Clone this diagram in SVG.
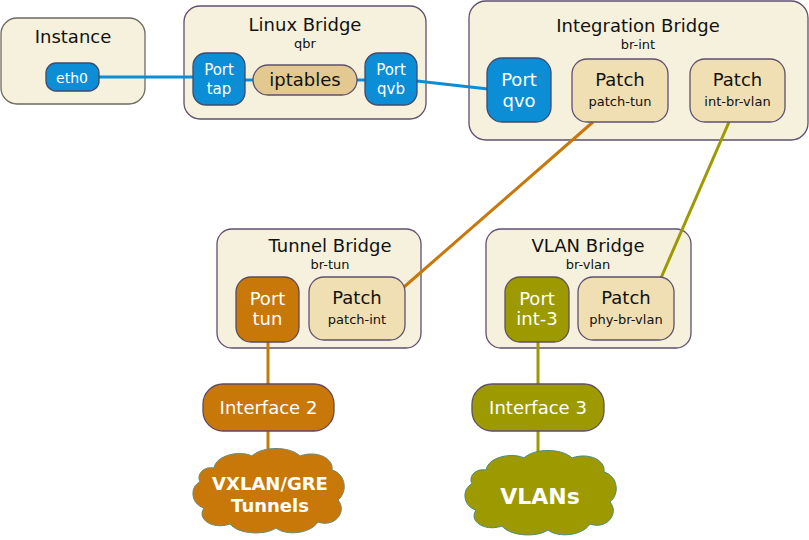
<svg xmlns="http://www.w3.org/2000/svg" width="809" height="540" viewBox="0 0 809 540">
<style>
text{font-family:"DejaVu Sans","Liberation Sans",sans-serif;text-anchor:middle}
.box{fill:#f6f1dc;stroke:#5e5070;stroke-width:1.3}
.inst{fill:#f6f1dc;stroke:#6e6a60;stroke-width:1.3}
.blue{fill:#0b8ed6;stroke:#3f4a6e;stroke-width:1.3}
.orange{fill:#c87808;stroke:#5e4a5a;stroke-width:1.3}
.olive{fill:#9c9a00;stroke:#5e5060;stroke-width:1.3}
.patch{fill:#f0dfb2;stroke:#5e5070;stroke-width:1.3}
.ipt{fill:#e3c990;stroke:#5e5070;stroke-width:1.3}
.title{font-size:18px;fill:#111}
.sub{font-size:13px;fill:#111}
.wt{fill:#fff}
.cb{stroke:#0b8ed6;stroke-width:3;fill:none}
.co{stroke:#c87808;stroke-width:3;fill:none}
.cv{stroke:#9c9a00;stroke-width:3;fill:none}
</style>
<g id="instance">
<rect class="inst" x="1" y="18" width="144" height="86" rx="16"/>
<text class="title" x="73" y="43">Instance</text>
</g>
<g id="linux-bridge">
<rect class="box" x="184" y="6" width="242" height="113" rx="16"/>
<text class="title" x="305" y="31">Linux Bridge</text>
<text class="sub" x="305" y="48">qbr</text>
</g>
<g id="integration-bridge">
<rect class="box" x="469" y="1" width="339" height="139" rx="17"/>
<text class="title" x="638" y="32">Integration Bridge</text>
<text class="sub" x="638" y="49">br-int</text>
</g>
<g id="tunnel-bridge">
<rect class="box" x="217" y="229" width="204" height="119" rx="15"/>
<text class="title" x="330" y="252">Tunnel Bridge</text>
<text class="sub" x="330" y="269">br-tun</text>
</g>
<g id="vlan-bridge">
<rect class="box" x="486" y="229" width="205" height="119" rx="15"/>
<text class="title" x="588" y="252">VLAN Bridge</text>
<text class="sub" x="588" y="269">br-vlan</text>
</g>
<g id="connectors">
<line class="cb" x1="99" y1="77" x2="194" y2="77"/>
<line class="cb" x1="245" y1="80" x2="254" y2="80"/>
<line class="cb" x1="357" y1="80" x2="366" y2="80"/>
<line class="cb" x1="417" y1="81" x2="488" y2="89"/>
<line class="co" x1="593" y1="122" x2="404" y2="287"/>
<line class="cv" x1="729" y1="122" x2="661" y2="278"/>
<line class="co" x1="268" y1="342" x2="268" y2="384"/>
<line class="co" x1="268" y1="431" x2="268" y2="458"/>
<line class="cv" x1="538" y1="342" x2="538" y2="384"/>
<line class="cv" x1="538" y1="431" x2="538" y2="458"/>
</g>
<g id="eth0">
<rect class="blue" x="46" y="63" width="53" height="28" rx="10"/>
<text class="wt" x="72" y="82.5" font-size="14">eth0</text>
</g>
<g id="port-tap">
<rect class="blue" x="193" y="53" width="52" height="52" rx="13"/>
<text class="wt" x="219" y="75" font-size="15">Port</text>
<text class="wt" x="219" y="94" font-size="15">tap</text>
</g>
<g id="iptables">
<rect class="ipt" x="253" y="65" width="104" height="30" rx="15"/>
<text x="305" y="86" font-size="18" fill="#111">iptables</text>
</g>
<g id="port-qvb">
<rect class="blue" x="365" y="53" width="52" height="52" rx="13"/>
<text class="wt" x="391" y="75" font-size="15">Port</text>
<text class="wt" x="391" y="94" font-size="15">qvb</text>
</g>
<g id="port-qvo">
<rect class="blue" x="487" y="58" width="64" height="64" rx="15"/>
<text class="wt" x="519" y="86" font-size="18">Port</text>
<text class="wt" x="519" y="107" font-size="18">qvo</text>
</g>
<g id="patch-tun">
<rect class="patch" x="572" y="59" width="96" height="63" rx="15"/>
<text class="title" x="620" y="86">Patch</text>
<text class="sub" x="620" y="106">patch-tun</text>
</g>
<g id="int-br-vlan">
<rect class="patch" x="690" y="59" width="95" height="63" rx="15"/>
<text class="title" x="737.5" y="86">Patch</text>
<text class="sub" x="737.5" y="106">int-br-vlan</text>
</g>
<g id="port-tun">
<rect class="orange" x="236" y="277" width="63" height="65" rx="15"/>
<text class="wt" x="267.5" y="305" font-size="18">Port</text>
<text class="wt" x="267.5" y="325" font-size="18">tun</text>
</g>
<g id="patch-int">
<rect class="patch" x="309" y="277" width="96" height="63" rx="15"/>
<text class="title" x="357" y="304">Patch</text>
<text class="sub" x="357" y="324">patch-int</text>
</g>
<g id="port-int-3">
<rect class="olive" x="505" y="277" width="64" height="65" rx="15"/>
<text class="wt" x="537" y="305" font-size="18">Port</text>
<text class="wt" x="537" y="325" font-size="18">int-3</text>
</g>
<g id="phy-br-vlan">
<rect class="patch" x="578" y="277" width="96" height="63" rx="15"/>
<text class="title" x="626" y="304">Patch</text>
<text class="sub" x="626" y="324">phy-br-vlan</text>
</g>
<g id="interface-2">
<rect class="orange" x="203" y="384" width="131" height="47" rx="20"/>
<text class="wt" x="268.5" y="414" font-size="18">Interface 2</text>
</g>
<g id="interface-3">
<rect class="olive" x="472" y="384" width="132" height="47" rx="20"/>
<text class="wt" x="538" y="414" font-size="18">Interface 3</text>
</g>
<g id="cloud-tunnels">
<path fill="#c87808" stroke="#6a8a70" stroke-width="1" d="M214,468 C216,455 240,450 252,456 C262,446 290,446 300,456 C316,450 334,458 332,470 C346,474 348,492 338,500 C348,512 334,528 318,522 C310,534 286,536 276,528 C264,536 238,534 230,524 C214,530 196,520 204,508 C190,504 190,486 200,482 C196,474 204,466 214,468 Z"/>
<text class="wt" x="270" y="490" font-size="18" font-weight="bold">VXLAN/GRE</text>
<text class="wt" x="270" y="512" font-size="18" font-weight="bold">Tunnels</text>
</g>
<g id="cloud-vlans">
<path fill="#9c9a00" stroke="#4a8a80" stroke-width="1" d="M486,470 C488,457 512,452 524,458 C534,448 562,448 572,458 C588,452 606,460 604,472 C618,476 620,494 610,502 C620,514 606,530 590,524 C582,536 558,538 548,530 C536,538 510,536 502,526 C486,532 468,522 476,510 C462,506 462,488 472,484 C468,476 476,468 486,470 Z"/>
<text class="wt" x="540" y="504" font-size="22" font-weight="bold">VLANs</text>
</g>
</svg>
